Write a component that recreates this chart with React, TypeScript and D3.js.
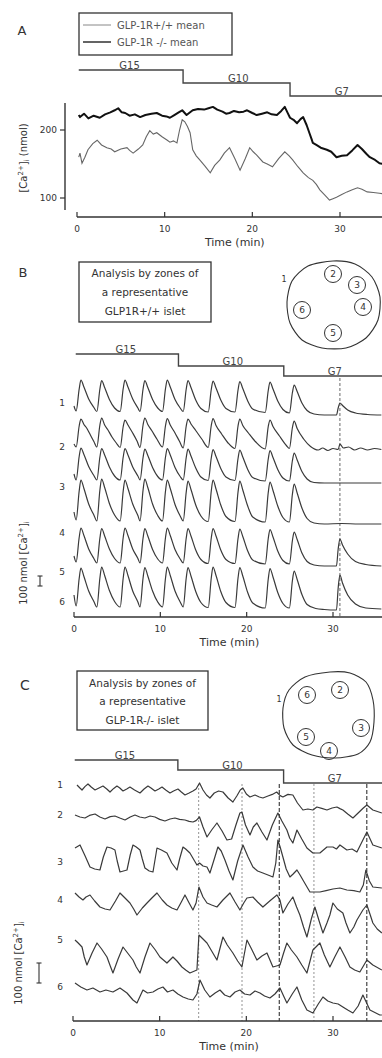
import React from 'react';
import * as d3 from 'd3';

const W = 382;
const H = 1058;
const FONT = 'DejaVu Sans, Verdana, sans-serif';
const INK = '#333';

// ---------- shared protocol ----------
const glucoseLabels = ['G15', 'G10', 'G7'];
const glucoseStart = 0.2;
const glucoseSwitchTimes = [12.1, 24.3];
const glucoseLabelTimes = [6.0, 18.4, 30.2];
const timeTicks = [0, 10, 20, 30];
const zoneNames = ['1', '2', '3', '4', '5', '6'];

// ---------- panel A: mean [Ca2+]i (nmol) ----------
const caTicks = [100, 200];
const wildTypeMean: [number, number][] = [
  [0.2, 160], [0.34, 166], [0.57, 151], [0.9, 160], [1.25, 171], [1.8, 180], [2.3, 185], [2.8, 178],
  [3.4, 174], [3.9, 172], [4.3, 168], [5.0, 172], [5.7, 174], [6.0, 170], [6.4, 166], [7.0, 172],
  [7.5, 178], [7.9, 190], [8.3, 199], [8.7, 194], [9.1, 196], [9.7, 190], [10.3, 185], [10.6, 182],
  [11.0, 184], [11.4, 181], [11.7, 200], [12.0, 215], [12.3, 212], [12.6, 205], [12.9, 196], [13.2, 171],
  [13.6, 162], [14.0, 156], [14.6, 147], [15.2, 137], [15.7, 148], [16.3, 156], [16.8, 166], [17.4, 174],
  [18.0, 158], [18.6, 141], [19.2, 158], [19.7, 174], [20.1, 168], [20.5, 163], [21.2, 153], [21.7, 150],
  [22.3, 146], [23.0, 158], [23.7, 168], [24.2, 162], [24.6, 156], [25.2, 146], [25.8, 137], [26.4, 130],
  [26.9, 126], [27.3, 120], [27.7, 112], [28.3, 104], [28.8, 97], [29.2, 99], [29.6, 101], [30.2, 105],
  [30.8, 109], [31.4, 112], [32.0, 115], [32.5, 113], [33.1, 109], [33.8, 108], [34.5, 107], [35.0, 106],
];
const knockoutMean: [number, number][] = [
  [0.2, 222], [0.34, 219], [0.8, 224], [1.3, 217], [1.9, 221], [2.6, 218], [3.2, 223], [3.8, 226],
  [4.3, 229], [4.7, 232], [5.1, 226], [5.5, 225], [6.0, 221], [6.6, 223], [7.2, 219], [7.8, 222],
  [8.5, 224], [9.1, 225], [9.7, 221], [10.2, 220], [10.6, 218], [11.1, 222], [11.6, 226], [12.0, 229],
  [12.5, 222], [12.9, 226], [13.2, 229], [13.8, 231], [14.5, 230], [15.0, 232], [15.5, 234], [16.0, 230],
  [16.6, 227], [17.0, 224], [17.4, 225], [17.9, 228], [18.5, 226], [19.0, 227], [19.4, 229], [20.0, 225],
  [20.5, 222], [21.1, 224], [21.7, 226], [22.2, 223], [22.8, 222], [23.3, 228], [23.7, 234], [24.0, 226],
  [24.3, 218], [24.7, 215], [25.1, 210], [25.5, 216], [25.8, 219], [26.2, 207], [26.5, 196], [26.8, 185],
  [26.9, 181], [27.3, 178], [27.8, 174], [28.5, 171], [29.0, 168], [29.6, 160], [30.2, 162], [30.8, 163],
  [31.4, 170], [32.0, 178], [32.5, 172], [33.0, 165], [33.4, 160], [34.0, 156], [34.5, 151], [35.0, 150],
];

// ---------- panel B: GLP-1R+/+ islet, zones 1-6 (nmol above each zone's floor) ----------
const wtZone1: [number, number][] = [
  [0, 90], [0.25, 40], [0.6, 260], [0.8, 350], [1.15, 280], [1.7, 160], [2.3, 75], [2.65, 35],
  [3.0, 260], [3.2, 345], [3.55, 275], [4.1, 155], [4.7, 70], [5.35, 35],
  [5.7, 265], [5.9, 350], [6.25, 280], [6.8, 160], [7.4, 70], [7.65, 35],
  [8.0, 260], [8.2, 345], [8.55, 275], [9.1, 155], [9.7, 70], [10.25, 35],
  [10.6, 265], [10.8, 350], [11.15, 280], [11.7, 155], [12.3, 70], [12.65, 35],
  [13.0, 260], [13.2, 345], [13.55, 275], [14.1, 150], [14.7, 65], [15.55, 30],
  [15.9, 255], [16.1, 340], [16.45, 270], [17.0, 150], [17.6, 65], [18.65, 30],
  [19.0, 250], [19.2, 335], [19.55, 265], [20.1, 145], [20.7, 60], [22.15, 25],
  [22.5, 245], [22.7, 330], [23.05, 260], [23.6, 140], [24.2, 55], [24.95, 20],
  [25.3, 225], [25.5, 300], [25.85, 235], [26.4, 120], [27.0, 45], [27.8, 10], [29.0, 0], [30.4, 0],
  [30.6, 70], [30.8, 120], [31.1, 95], [31.7, 50], [32.6, 20], [34.0, 5], [35.6, 0],
];
const wtZone2: [number, number][] = [
  [0, 60], [0.25, 30], [0.6, 240], [0.8, 310], [1.15, 255], [1.5, 215], [1.9, 150], [2.3, 85], [2.65, 30],
  [3.0, 250], [3.2, 320], [3.55, 250], [3.9, 205], [4.4, 130], [4.9, 70], [5.35, 25],
  [5.7, 235], [5.9, 300], [6.25, 250], [6.8, 170], [7.3, 90], [7.65, 25],
  [8.0, 250], [8.2, 320], [8.55, 255], [9.0, 195], [9.6, 110], [10.25, 30],
  [10.6, 245], [10.8, 315], [11.15, 250], [11.7, 170], [12.2, 90], [12.65, 20],
  [13.0, 240], [13.2, 310], [13.55, 260], [14.1, 195], [14.8, 110], [15.55, 25],
  [15.9, 245], [16.1, 315], [16.45, 245], [17.1, 160], [17.8, 75], [18.65, 15],
  [19.0, 240], [19.2, 310], [19.55, 245], [20.2, 170], [21.0, 85], [22.15, 10],
  [22.5, 235], [22.7, 300], [23.05, 235], [23.8, 140], [24.6, 45], [24.95, 15],
  [25.3, 225], [25.5, 290], [25.85, 215], [26.6, 110], [27.4, 35], [28.3, 0], [28.8, 20], [29.4, -5],
  [30.0, 15], [30.6, 5], [30.8, 60], [31.2, 20], [31.8, 30], [32.5, 0], [33.2, 20], [34.0, 0], [34.8, 15],
  [35.6, 5],
];
const wtZone3: [number, number][] = [
  [0, 90], [0.25, 30], [0.6, 265], [0.8, 350], [1.15, 285], [1.7, 165], [2.3, 75], [2.65, 30],
  [3.0, 260], [3.2, 345], [3.55, 280], [4.1, 160], [4.7, 70], [5.35, 30],
  [5.7, 260], [5.9, 345], [6.25, 280], [6.8, 160], [7.4, 70], [7.65, 30],
  [8.0, 255], [8.2, 340], [8.55, 275], [9.1, 155], [9.7, 65], [10.25, 30],
  [10.6, 260], [10.8, 345], [11.15, 280], [11.7, 155], [12.3, 65], [12.65, 30],
  [13.0, 255], [13.2, 340], [13.55, 270], [14.1, 150], [14.7, 60], [15.55, 25],
  [15.9, 250], [16.1, 335], [16.45, 265], [17.0, 145], [17.6, 60], [18.65, 25],
  [19.0, 245], [19.2, 330], [19.55, 260], [20.1, 140], [20.7, 55], [22.15, 20],
  [22.5, 240], [22.7, 325], [23.05, 255], [23.6, 135], [24.2, 50], [24.95, 20],
  [25.3, 225], [25.5, 300], [25.85, 230], [26.4, 115], [27.0, 40], [27.8, 5], [29.0, 0], [31.0, 0],
  [33.0, 0], [35.6, 0],
];
const wtZone4: [number, number][] = [
  [0, 120], [0.25, 40], [0.6, 330], [0.8, 440], [1.15, 355], [1.7, 200], [2.3, 90], [2.65, 30],
  [3.0, 340], [3.2, 450], [3.55, 365], [4.1, 205], [4.7, 90], [5.35, 30],
  [5.7, 330], [5.9, 440], [6.25, 355], [6.8, 200], [7.4, 85], [7.65, 30],
  [8.0, 340], [8.2, 450], [8.55, 365], [9.1, 200], [9.7, 85], [10.25, 30],
  [10.6, 330], [10.8, 440], [11.15, 355], [11.7, 195], [12.3, 80], [12.65, 30],
  [13.0, 320], [13.2, 430], [13.55, 345], [14.1, 190], [14.7, 80], [15.55, 25],
  [15.9, 330], [16.1, 440], [16.45, 350], [17.0, 190], [17.6, 75], [18.65, 25],
  [19.0, 320], [19.2, 430], [19.55, 340], [20.1, 185], [20.7, 70], [22.15, 20],
  [22.5, 315], [22.7, 420], [23.05, 335], [23.6, 180], [24.2, 65], [24.95, 20],
  [25.3, 300], [25.5, 400], [25.85, 310], [26.4, 160], [27.0, 55], [27.8, 10], [29.0, 0], [31.0, 5],
  [33.0, 0], [35.6, 0],
];
const wtZone5: [number, number][] = [
  [0, 100], [0.25, 40], [0.6, 285], [0.8, 380], [1.15, 305], [1.7, 170], [2.3, 75], [2.65, 30],
  [3.0, 280], [3.2, 375], [3.55, 300], [4.1, 170], [4.7, 75], [5.35, 30],
  [5.7, 285], [5.9, 380], [6.25, 305], [6.8, 170], [7.4, 75], [7.65, 30],
  [8.0, 280], [8.2, 375], [8.55, 300], [9.1, 165], [9.7, 70], [10.25, 30],
  [10.6, 285], [10.8, 380], [11.15, 305], [11.7, 165], [12.3, 70], [12.65, 30],
  [13.0, 280], [13.2, 375], [13.55, 300], [14.1, 160], [14.7, 65], [15.55, 25],
  [15.9, 280], [16.1, 375], [16.45, 300], [17.0, 160], [17.6, 65], [18.65, 25],
  [19.0, 275], [19.2, 370], [19.55, 295], [20.1, 155], [20.7, 60], [22.15, 20],
  [22.5, 275], [22.7, 365], [23.05, 290], [23.6, 150], [24.2, 55], [24.95, 20],
  [25.3, 255], [25.5, 340], [25.85, 265], [26.4, 130], [27.0, 45], [27.8, 10], [29.0, 0], [30.4, 0],
  [30.6, 170], [30.8, 270], [31.1, 210], [31.7, 120], [32.6, 45], [33.8, 15], [35.6, 0],
];
const wtZone6: [number, number][] = [
  [0, 150], [0.25, 40], [0.6, 315], [0.8, 420], [1.15, 335], [1.7, 190], [2.3, 85], [2.65, 30],
  [3.0, 320], [3.2, 430], [3.55, 345], [4.1, 195], [4.7, 85], [5.35, 30],
  [5.7, 320], [5.9, 430], [6.25, 345], [6.8, 190], [7.4, 80], [7.65, 30],
  [8.0, 320], [8.2, 425], [8.55, 340], [9.1, 190], [9.7, 80], [10.25, 30],
  [10.6, 320], [10.8, 430], [11.15, 345], [11.7, 190], [12.3, 80], [12.65, 30],
  [13.0, 320], [13.2, 425], [13.55, 340], [14.1, 185], [14.7, 75], [15.55, 25],
  [15.9, 320], [16.1, 430], [16.45, 345], [17.0, 185], [17.6, 75], [18.65, 25],
  [19.0, 320], [19.2, 425], [19.55, 340], [20.1, 180], [20.7, 70], [22.15, 20],
  [22.5, 310], [22.7, 415], [23.05, 330], [23.6, 175], [24.2, 65], [24.95, 20],
  [25.3, 295], [25.5, 390], [25.85, 305], [26.4, 155], [27.0, 55], [28.0, 15], [29.0, 5], [30.4, 0],
  [30.6, 220], [30.8, 350], [31.1, 270], [31.7, 150], [32.6, 60], [33.8, 20], [35.6, 10],
];
const wtSyncTimes = [30.8];

// ---------- panel C: GLP-1R-/- islet, zones 1-6 (nmol above each zone's floor) ----------
const koZone1: [number, number][] = [
  [0.46, 165], [0.8, 150], [1.04, 140], [1.4, 158], [1.73, 170], [2.1, 155], [2.54, 140], [3.0, 150], [3.46, 160],
  [3.9, 145], [4.27, 130], [4.7, 148], [5.07, 160], [5.4, 150], [5.77, 135], [6.2, 145], [6.57, 155], [7.1, 140],
  [7.73, 125], [8.2, 145], [8.65, 160], [9.0, 150], [9.46, 135], [9.9, 145], [10.27, 155], [10.7, 140], [11.19, 125],
  [11.6, 135], [12.11, 145], [12.5, 130], [12.92, 115], [13.4, 125], [13.84, 135], [14.2, 145], [14.6, 175],
  [15.0, 140], [15.4, 115], [15.8, 100], [16.3, 125], [16.8, 135], [17.3, 130], [17.9, 100], [18.45, 80],
  [18.9, 110], [19.3, 140], [19.6, 150], [20.0, 120], [20.42, 105], [21.0, 115], [21.5, 105], [21.91, 100],
  [22.5, 110], [23.0, 118], [23.5, 130], [23.9, 112], [24.22, 105], [24.8, 118], [25.37, 115], [25.9, 75],
  [26.53, 40], [27.1, 45], [27.68, 40], [28.14, 55], [28.7, 48], [29.3, 40], [29.9, 50], [30.45, 55], [30.8, 47],
  [31.14, 40], [31.7, 20], [32.3, 0], [32.9, 25], [33.5, 50], [33.91, 65], [34.6, 40], [35.64, 25],
];
const koZone2: [number, number][] = [
  [0.23, 200], [0.8, 190], [1.38, 185], [1.9, 198], [2.54, 205], [3.1, 190], [3.69, 180], [4.3, 192], [4.84, 195],
  [5.4, 185], [6.0, 175], [6.6, 190], [7.15, 200], [7.7, 190], [8.3, 185], [8.9, 195], [9.46, 190], [10.0, 178],
  [10.61, 170], [11.2, 180], [11.76, 185], [12.3, 178], [12.92, 175], [13.4, 168], [13.84, 165], [14.2, 172],
  [14.6, 190], [15.0, 140], [15.46, 90], [16.0, 125], [16.61, 160], [17.2, 120], [17.76, 75], [18.3, 80],
  [18.8, 150], [19.26, 210], [19.49, 215], [19.9, 150], [20.42, 100], [20.8, 140], [21.22, 160], [21.8, 115],
  [22.38, 75], [23.0, 150], [23.64, 210], [24.1, 170], [24.68, 125], [25.0, 85], [25.37, 60], [25.84, 125],
  [26.4, 80], [26.99, 35], [27.68, 10], [28.49, 10], [29.3, 40], [29.99, 40], [30.4, 30], [30.8, 50], [31.6, 25],
  [32.2, 30], [32.76, 15], [33.45, 75], [33.91, 115], [34.6, 50], [35.64, 35],
];
const koZone3: [number, number][] = [
  [0.23, 225], [0.81, 240], [1.4, 185], [1.96, 130], [2.5, 120], [3.11, 115], [3.5, 180], [3.92, 230], [4.4, 225],
  [4.84, 215], [5.1, 160], [5.42, 105], [6.23, 115], [6.6, 190], [6.92, 240], [7.3, 230], [7.73, 215], [8.0, 170],
  [8.3, 125], [8.8, 110], [9.23, 105], [9.69, 225], [10.2, 215], [10.84, 200], [11.4, 150], [12.0, 115], [12.3, 170],
  [12.69, 230], [13.0, 220], [13.49, 200], [14.3, 140], [14.6, 150], [15.0, 135], [15.46, 130], [15.8, 100],
  [16.3, 170], [16.72, 230], [17.1, 210], [17.53, 165], [18.0, 110], [18.45, 65], [19.0, 160], [19.61, 240],
  [20.2, 180], [20.76, 130], [21.3, 110], [21.91, 100], [22.5, 90], [23.07, 80], [23.4, 150], [23.64, 265],
  [23.9, 230], [24.22, 180], [24.6, 120], [25.03, 80], [25.4, 95], [25.84, 115], [26.2, 90], [26.53, 65], [27.0, 30],
  [27.34, 5], [28.49, 5], [29.2, 12], [29.99, 20], [30.8, 25], [31.6, 15], [32.4, 12], [33.1, 5], [33.5, 40],
  [33.79, 115], [34.2, 60], [34.6, 30], [35.64, 25],
];
const koZone4: [number, number][] = [
  [0.23, 220], [0.7, 200], [1.15, 185], [1.5, 200], [1.96, 210], [2.5, 180], [3.11, 150], [3.7, 140], [4.27, 135],
  [4.9, 180], [5.42, 220], [6.0, 195], [6.57, 170], [7.0, 140], [7.38, 110], [8.0, 145], [8.54, 170], [9.1, 195],
  [9.69, 220], [10.3, 185], [10.84, 160], [11.4, 145], [12.0, 135], [12.5, 175], [12.92, 210], [13.4, 170],
  [13.84, 135], [14.2, 170], [14.53, 250], [15.0, 200], [15.46, 170], [16.0, 160], [16.61, 150], [17.3, 185],
  [18.11, 220], [18.7, 175], [19.26, 135], [19.7, 170], [20.07, 195], [20.76, 200], [21.3, 175], [21.91, 150],
  [22.7, 180], [23.53, 210], [23.88, 185], [24.22, 120], [24.8, 165], [25.37, 200], [25.8, 150], [26.18, 110],
  [26.6, 50], [26.99, 0], [27.5, 90], [27.91, 150], [28.4, 80], [28.84, 20], [29.3, 70], [29.64, 110], [29.99, 170],
  [30.5, 140], [31.14, 120], [31.5, 70], [31.95, 20], [32.4, 50], [32.76, 85], [33.45, 135], [33.91, 160],
  [34.3, 110], [34.6, 70], [35.1, 40], [35.64, 20],
];
const koZone5: [number, number][] = [
  [0.23, 185], [0.6, 170], [1.04, 150], [1.3, 100], [1.61, 60], [2.2, 120], [2.77, 170], [3.3, 140], [3.92, 100],
  [4.3, 55], [4.61, 20], [5.2, 90], [5.77, 150], [6.3, 120], [6.92, 85], [7.3, 50], [7.73, 20], [8.3, 100],
  [8.88, 170], [9.5, 135], [10.03, 100], [10.84, 70], [11.53, 100], [12.0, 80], [12.57, 50], [13.0, 35], [13.49, 20],
  [14.3, 35], [14.53, 210], [15.0, 190], [15.46, 170], [16.0, 130], [16.61, 85], [17.3, 200], [17.8, 160],
  [18.45, 120], [19.0, 80], [19.49, 50], [20.07, 185], [20.6, 140], [21.22, 85], [21.8, 105], [22.38, 120],
  [23.07, 50], [23.88, 60], [24.3, 120], [24.68, 170], [25.2, 135], [25.84, 100], [26.4, 60], [26.99, 20],
  [27.68, 135], [28.49, 170], [29.0, 110], [29.64, 50], [30.2, 100], [30.8, 150], [31.4, 100], [31.95, 50],
  [32.5, 35], [33.1, 25], [33.91, 85], [34.6, 60], [35.64, 35],
];
const koZone6: [number, number][] = [
  [0.23, 175], [0.9, 155], [1.61, 140], [2.3, 150], [3.11, 130], [3.8, 140], [4.61, 130], [5.42, 150], [6.23, 125],
  [6.92, 90], [7.38, 75], [8.07, 140], [8.6, 125], [9.23, 130], [9.8, 145], [10.38, 155], [10.9, 130], [11.53, 140],
  [12.1, 120], [12.69, 105], [13.3, 95], [13.84, 90], [14.3, 120], [14.65, 190], [15.2, 140], [15.8, 105],
  [16.4, 125], [16.96, 140], [17.5, 115], [18.11, 105], [18.7, 130], [19.26, 140], [19.8, 120], [20.42, 115],
  [21.0, 135], [21.57, 125], [22.1, 110], [22.72, 100], [23.3, 120], [23.88, 150], [24.3, 110], [24.68, 75],
  [25.3, 120], [25.84, 155], [26.4, 90], [26.99, 40], [27.68, 25], [28.3, 70], [28.84, 105], [29.4, 85],
  [29.99, 75], [30.6, 70], [31.14, 55], [31.7, 40], [32.3, 25], [32.9, 60], [33.45, 115], [34.26, 40], [35.4, 15],
  [35.64, 15],
];
const koSyncTimes = [14.5, 19.5, 23.8, 27.8, 33.9];
const koSyncStrong = [false, false, true, false, true];

// ---------- layout ----------
const xA = d3.scaleLinear().domain([0, 30]).range([77, 340]);
const yA = d3.scaleLinear().domain([100, 200]).range([198, 130]);
const xB = d3.scaleLinear().domain([0, 30]).range([74, 333]);
const xC = d3.scaleLinear().domain([0, 30]).range([73, 333]);
const wtFloors = [415, 450, 483, 524, 566, 610];
const koFloors = [818, 855, 893, 937, 977, 1018];
const wtLabelY = [403, 447, 487, 533, 572, 602];
const koLabelY = [785, 815, 862, 900, 940, 987];

type Pt = [number, number];

function Steps({ x, ys }: { x: d3.ScaleLinear<number, number>; ys: number[] }) {
  const [t1, t2] = glucoseSwitchTimes;
  const d = `M${x(glucoseStart)},${ys[0]}H${x(t1)}V${ys[1]}H${x(t2)}V${ys[2]}H${W}`;
  return (
    <g>
      <path d={d} fill="none" stroke="#444" strokeWidth={1.4} />
      {glucoseLabels.map((l, i) => (
        <text key={l} x={x(glucoseLabelTimes[i])} y={ys[i] - 1.5} textAnchor="middle" fontSize={10} fill="#444">
          {l}
        </text>
      ))}
    </g>
  );
}

function TimeAxis({ x, y }: { x: d3.ScaleLinear<number, number>; y: number }) {
  return (
    <g>
      <line x1={x(0)} x2={W} y1={y} y2={y} stroke={INK} strokeWidth={1.6} />
      {timeTicks.map((t) => (
        <g key={t}>
          <line x1={x(t)} x2={x(t)} y1={y} y2={y - 5} stroke={INK} strokeWidth={1.2} />
          <text x={x(t)} y={y + 15} textAnchor="middle" fontSize={9} fill={INK}>
            {t}
          </text>
        </g>
      ))}
      <text x={x(18)} y={y + 29} textAnchor="middle" fontSize={11} fill={INK}>
        Time (min)
      </text>
    </g>
  );
}

function CaLabel({ x, y, prefix }: { x: number; y: number; prefix: string }) {
  return (
    <text transform={`translate(${x},${y}) rotate(-90)`} textAnchor="middle" fontSize={10} fill={INK}>
      {prefix}[Ca
      <tspan fontSize={7} dy={-4}>2+</tspan>
      <tspan dy={4}>]</tspan>
      <tspan fontSize={7} dy={2}>i</tspan>
      <tspan dy={-2}>{prefix ? '' : ' (nmol)'}</tspan>
    </text>
  );
}

function Islet({
  outline,
  zones,
  one,
}: {
  outline: string;
  zones: { n: string; x: number; y: number }[];
  one: [number, number];
}) {
  return (
    <g>
      <path d={outline} fill="none" stroke={INK} strokeWidth={1.1} />
      {zones.map((z) => (
        <g key={z.n}>
          <circle cx={z.x} cy={z.y} r={8.5} fill="none" stroke={INK} strokeWidth={1} />
          <text x={z.x} y={z.y + 3.3} textAnchor="middle" fontSize={9} fill={INK}>
            {z.n}
          </text>
        </g>
      ))}
      <text x={one[0]} y={one[1] + 3} textAnchor="middle" fontSize={8} fill={INK}>
        1
      </text>
    </g>
  );
}

function ZoneStack({
  x,
  traces,
  floors,
  labelY,
  labelX,
  pxPer100,
  smooth,
}: {
  x: d3.ScaleLinear<number, number>;
  traces: Pt[][];
  floors: number[];
  labelY: number[];
  labelX: number;
  pxPer100: number;
  smooth: boolean;
}) {
  return (
    <g>
      {traces.map((tr, i) => {
        const y = d3.scaleLinear().domain([0, 100]).range([floors[i], floors[i] - pxPer100]);
        const line = d3
          .line<Pt>()
          .x((d) => x(d[0]))
          .y((d) => y(d[1]))
          .curve(smooth ? d3.curveMonotoneX : d3.curveLinear);
        return (
          <g key={i}>
            <path d={line(tr) || ''} fill="none" stroke="#3a3a3a" strokeWidth={1.2} strokeLinejoin="round" />
            <text x={labelX} y={labelY[i] + 3} textAnchor="middle" fontSize={9} fill={INK}>
              {zoneNames[i]}
            </text>
          </g>
        );
      })}
    </g>
  );
}

function ScaleBar({ x, y1, y2 }: { x: number; y1: number; y2: number }) {
  return (
    <g stroke={INK} strokeWidth={1.1}>
      <line x1={x} x2={x} y1={y1} y2={y2} />
      <line x1={x - 2.5} x2={x + 2.5} y1={y1} y2={y1} />
      <line x1={x - 2.5} x2={x + 2.5} y1={y2} y2={y2} />
    </g>
  );
}

function InfoBox({ x, y, w, h, lines, ys }: { x: number; y: number; w: number; h: number; lines: string[]; ys: number[] }) {
  return (
    <g>
      <rect x={x} y={y} width={w} height={h} fill="none" stroke={INK} strokeWidth={1.3} />
      {lines.map((l, i) => (
        <text key={i} x={x + w / 2} y={ys[i]} textAnchor="middle" fontSize={10.5} fill={INK}>
          {l}
        </text>
      ))}
    </g>
  );
}

export default function App() {
  const meanLine = d3
    .line<Pt>()
    .x((d) => xA(d[0]))
    .y((d) => yA(d[1]));

  const koOutline =
    d3
      .line<Pt>()
      .curve(d3.curveCardinalClosed.tension(0.2))([
        [330, 672], [350, 673], [366, 682], [373, 700], [374, 722], [370, 742], [358, 754], [335, 758],
        [312, 755], [293, 745], [284, 728], [283, 708], [289, 690], [305, 677],
      ]) || '';
  const wtOutline =
    d3
      .line<Pt>()
      .curve(d3.curveCardinalClosed.tension(0.2))([
        [333, 261], [355, 264], [372, 277], [380, 297], [378, 320], [366, 338], [346, 348], [322, 348],
        [302, 340], [290, 323], [287, 302], [292, 281], [308, 266],
      ]) || '';

  return (
    <svg
      width={W}
      height={H}
      viewBox={`0 0 ${W} ${H}`}
      style={{ position: 'absolute', left: 0, top: 0, background: '#fff', fontFamily: FONT }}
    >
      <rect width={W} height={H} fill="#fff" />

      {/* ---------- A ---------- */}
      <text x={22} y={35} textAnchor="middle" fontSize={13} fill={INK}>A</text>
      <rect x={79} y={13} width={153} height={42} fill="none" stroke={INK} strokeWidth={1.3} />
      <line x1={83} x2={111} y1={25} y2={25} stroke="#888" strokeWidth={1} />
      <line x1={83} x2={111} y1={42} y2={42} stroke="#222" strokeWidth={1.4} />
      <text x={117} y={28.5} fontSize={10} fill="#555">GLP-1R+/+ mean</text>
      <text x={117} y={45.5} fontSize={10} fill="#555">GLP-1R -/-  mean</text>
      <Steps x={xA} ys={[70, 83, 96]} />

      <line x1={65} x2={65} y1={103} y2={210} stroke={INK} strokeWidth={1.4} />
      {caTicks.map((v) => (
        <g key={v}>
          <line x1={60} x2={65} y1={yA(v)} y2={yA(v)} stroke={INK} strokeWidth={1.2} />
          <text x={57} y={yA(v) + 3} textAnchor="end" fontSize={9} fill={INK}>{v}</text>
        </g>
      ))}
      <CaLabel x={27} y={158} prefix="" />
      <path d={meanLine(wildTypeMean) || ''} fill="none" stroke="#666" strokeWidth={1.1} />
      <path d={meanLine(knockoutMean) || ''} fill="none" stroke="#111" strokeWidth={2} strokeLinejoin="round" />
      <TimeAxis x={xA} y={217} />

      {/* ---------- B ---------- */}
      <text x={23} y={277} textAnchor="middle" fontSize={13} fill={INK}>B</text>
      <InfoBox
        x={79}
        y={262}
        w={132}
        h={60}
        lines={['Analysis by zones of', 'a representative', 'GLP1R+/+ islet']}
        ys={[277, 296, 315]}
      />
      <Islet
        outline={wtOutline}
        zones={[
          { n: '2', x: 333, y: 274 },
          { n: '3', x: 357, y: 285 },
          { n: '4', x: 363, y: 307 },
          { n: '5', x: 333, y: 333 },
          { n: '6', x: 302, y: 310 },
        ]}
        one={[284, 279]}
      />
      <Steps x={xB} ys={[354, 366, 376]} />
      {wtSyncTimes.map((t) => (
        <line key={t} x1={xB(t)} x2={xB(t)} y1={378} y2={617} stroke="#555" strokeWidth={0.9} strokeDasharray="3,2" />
      ))}
      <ZoneStack
        x={xB}
        traces={[wtZone1, wtZone2, wtZone3, wtZone4, wtZone5, wtZone6]}
        floors={wtFloors}
        labelY={wtLabelY}
        labelX={62}
        pxPer100={10}
        smooth={true}
      />
      <CaLabel x={27} y={563} prefix="100 nmol " />
      <ScaleBar x={40} y1={576} y2={586} />
      <TimeAxis x={xB} y={617} />

      {/* ---------- C ---------- */}
      <text x={25} y={690} textAnchor="middle" fontSize={14} fill={INK}>C</text>
      <InfoBox
        x={77}
        y={671}
        w={131}
        h={59}
        lines={['Analysis by zones of', 'a representative', 'GLP-1R-/-  islet']}
        ys={[687, 705, 724]}
      />
      <Islet
        outline={koOutline}
        zones={[
          { n: '6', x: 307, y: 695 },
          { n: '2', x: 340, y: 690 },
          { n: '3', x: 361, y: 728 },
          { n: '5', x: 306, y: 737 },
          { n: '4', x: 329, y: 751 },
        ]}
        one={[279, 699]}
      />
      <Steps x={xC} ys={[760, 770, 783]} />
      {koSyncTimes.map((t, i) => (
        <line
          key={t}
          x1={xC(t)}
          x2={xC(t)}
          y1={784}
          y2={1021}
          stroke={koSyncStrong[i] ? '#333' : '#888'}
          strokeWidth={koSyncStrong[i] ? 1.1 : 0.9}
          strokeDasharray={koSyncStrong[i] ? '4,2' : '2,2'}
        />
      ))}
      <ZoneStack
        x={xC}
        traces={[koZone1, koZone2, koZone3, koZone4, koZone5, koZone6]}
        floors={koFloors}
        labelY={koLabelY}
        labelX={60}
        pxPer100={20}
        smooth={false}
      />
      <CaLabel x={22} y={963} prefix="100 nmol " />
      <ScaleBar x={39} y1={963} y2={983} />
      <TimeAxis x={xC} y={1021} />
    </svg>
  );
}
